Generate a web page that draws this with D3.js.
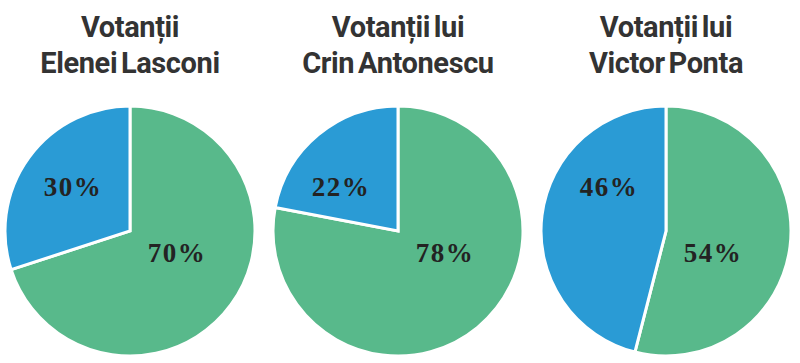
<!DOCTYPE html>
<html>
<head>
<meta charset="utf-8">
<script src="https://cdn.jsdelivr.net/npm/d3@7"></script>
<style>
  body { margin: 0; background: #fff; }
  svg { display: block; }
</style>
</head>
<body>
<div id="chart"></div>
<script>
// date
const groups = ["lasconi", "antonescu", "ponta"];
const titleLine1 = ["Votanții", "Votanții lui", "Votanții lui"];
const titleLine2 = ["Elenei Lasconi", "Crin Antonescu", "Victor Ponta"];
const greenValues = [70, 78, 54];
const blueValues = [30, 22, 46];

const width = 800;
const height = 363;
const radius = 125;
const cy = 231;
const colors = { green: "#58b98b", blue: "#2a9bd5" };

const svg = d3
  .select("#chart")
  .append("svg")
  .attr("width", width)
  .attr("height", height);

svg.append("rect").attr("width", width).attr("height", height).attr("fill", "#fff");

// pozitia fiecarei placinte
const x = d3.scalePoint().domain(groups).range([130, 666]);

const pie = d3
  .pie()
  .sort(null)
  .value((d) => d.value);

const arc = d3.arc().innerRadius(0).outerRadius(radius);

// etichetele stau cam in acelasi loc pe fiecare grafic
const labelOffset = { green: [47, 22], blue: [-57, -44] };

groups.forEach((key, i) => {
  const g = svg.append("g").attr("transform", `translate(${x(key)},${cy})`);

  const slices = pie([
    { name: "green", value: greenValues[i] },
    { name: "blue", value: blueValues[i] },
  ]);

  g.selectAll("path")
    .data(slices)
    .join("path")
    .attr("d", arc)
    .attr("fill", (d) => colors[d.data.name])
    .attr("stroke", "#fff")
    .attr("stroke-width", 3)
    .attr("stroke-linejoin", "miter");

  g.selectAll("text.val")
    .data(slices)
    .join("text")
    .attr("class", "val")
    .attr("x", (d) => labelOffset[d.data.name][0])
    .attr("y", (d) => labelOffset[d.data.name][1])
    .attr("text-anchor", "middle")
    .attr("dy", "0.33em")
    .attr("font-family", "'Liberation Serif', 'DejaVu Serif', serif")
    .attr("font-weight", "bold")
    .attr("font-size", 27)
    .attr("letter-spacing", 1.5)
    .attr("fill", "#232323")
    .text((d) => d.data.value + "%");

  // titlu
  const t = svg
    .append("text")
    .attr("x", x(key))
    .attr("text-anchor", "middle")
    .attr("font-family", "Roboto, 'Noto Sans', sans-serif")
    .attr("font-weight", "bold")
    .attr("font-size", 29)
    .attr("letter-spacing", -0.4)
    .attr("word-spacing", -3)
    .attr("fill", "#333");
  t.append("tspan").attr("x", x(key)).attr("y", 37).text(titleLine1[i]);
  t.append("tspan").attr("x", x(key)).attr("y", 73).text(titleLine2[i]);
});
</script>
</body>
</html>
